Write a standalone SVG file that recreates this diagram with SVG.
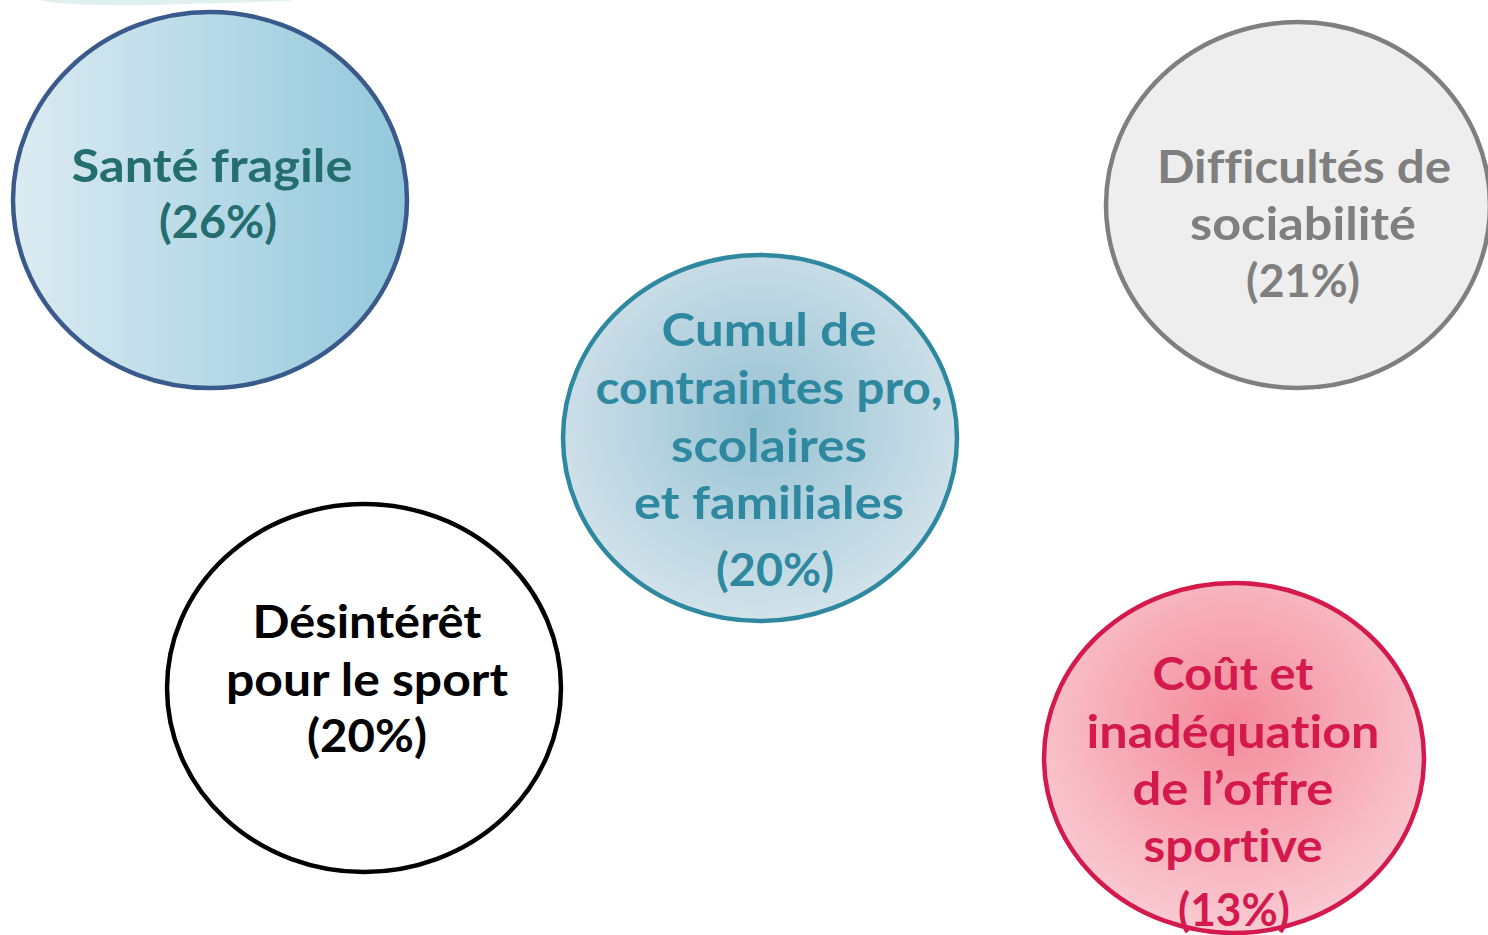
<svg xmlns="http://www.w3.org/2000/svg" width="1488" height="935" viewBox="0 0 1488 935">
<defs>
<linearGradient id="gSante" x1="0" y1="0" x2="1" y2="0">
<stop offset="0" stop-color="#dcebf2"/>
<stop offset="1" stop-color="#92c8dc"/>
</linearGradient>
<radialGradient id="gCumul" cx="0.5" cy="0.45" r="0.55">
<stop offset="0" stop-color="#97c2d3"/>
<stop offset="1" stop-color="#d2e2ea"/>
</radialGradient>
<radialGradient id="gCout" cx="0.5" cy="0.4" r="0.6">
<stop offset="0" stop-color="#f48a9a"/>
<stop offset="1" stop-color="#f9cbd2"/>
</radialGradient>
<style>
.t{font-family:Lato,"Open Sans","Liberation Sans",sans-serif;font-weight:700;font-size:46px;text-anchor:middle;font-variant-ligatures:none;font-feature-settings:"liga" 0,"dlig" 0}
.ring{stroke-width:4.5}
</style>
</defs>
<rect width="1488" height="935" fill="#ffffff"/>
<path d="M40,0 Q60,6 150,5 L290,1 L290,0 Z" fill="#dff0ef"/>
<g id="connectors"/>
<g id="sante">
<ellipse class="ring" cx="210" cy="200" rx="197" ry="188" fill="url(#gSante)" stroke="#3a5a8c"/>
<text class="t" fill="#256e70"><tspan x="212" y="182" textLength="281" lengthAdjust="spacingAndGlyphs">Santé fragile</tspan><tspan x="218" y="238" textLength="118" lengthAdjust="spacingAndGlyphs">(26%)</tspan></text>
</g>
<g id="difficultes">
<ellipse class="ring" cx="1298" cy="205" rx="192" ry="183" fill="#eeeeee" stroke="#7f7f7f"/>
<text class="t" fill="#7f7f7f"><tspan x="1304" y="183" textLength="294" lengthAdjust="spacingAndGlyphs">Difficultés de</tspan><tspan x="1303" y="240" textLength="226" lengthAdjust="spacingAndGlyphs">sociabilité</tspan><tspan x="1303" y="297" textLength="114" lengthAdjust="spacingAndGlyphs">(21%)</tspan></text>
</g>
<g id="cumul">
<ellipse class="ring" cx="760" cy="438" rx="197" ry="183" fill="url(#gCumul)" stroke="#2e89a0"/>
<text class="t" fill="#2e89a0"><tspan x="769" y="346" textLength="215" lengthAdjust="spacingAndGlyphs">Cumul de</tspan><tspan x="769" y="404" textLength="347" lengthAdjust="spacingAndGlyphs">contraintes pro,</tspan><tspan x="769" y="462" textLength="196" lengthAdjust="spacingAndGlyphs">scolaires</tspan><tspan x="769" y="519" textLength="270" lengthAdjust="spacingAndGlyphs">et familiales</tspan><tspan x="775" y="586" textLength="118" lengthAdjust="spacingAndGlyphs">(20%)</tspan></text>
</g>
<g id="desinteret">
<ellipse class="ring" cx="364" cy="688" rx="197" ry="184" fill="#ffffff" stroke="#000000"/>
<text class="t" fill="#000000"><tspan x="367" y="638" textLength="229" lengthAdjust="spacingAndGlyphs">Désintérêt</tspan><tspan x="367" y="696" textLength="282" lengthAdjust="spacingAndGlyphs">pour le sport</tspan><tspan x="367" y="752" textLength="120" lengthAdjust="spacingAndGlyphs">(20%)</tspan></text>
</g>
<g id="cout">
<ellipse class="ring" cx="1234" cy="758" rx="190" ry="175" fill="url(#gCout)" stroke="#d4194d"/>
<text class="t" fill="#d4194d"><tspan x="1233" y="690" textLength="161" lengthAdjust="spacingAndGlyphs">Coût et</tspan><tspan x="1233" y="748" textLength="293" lengthAdjust="spacingAndGlyphs">inadéquation</tspan><tspan x="1233" y="805" textLength="201" lengthAdjust="spacingAndGlyphs">de l’offre</tspan><tspan x="1233" y="862" textLength="179" lengthAdjust="spacingAndGlyphs">sportive</tspan><tspan x="1234" y="926" textLength="112" lengthAdjust="spacingAndGlyphs">(13%)</tspan></text>
</g>
</svg>
